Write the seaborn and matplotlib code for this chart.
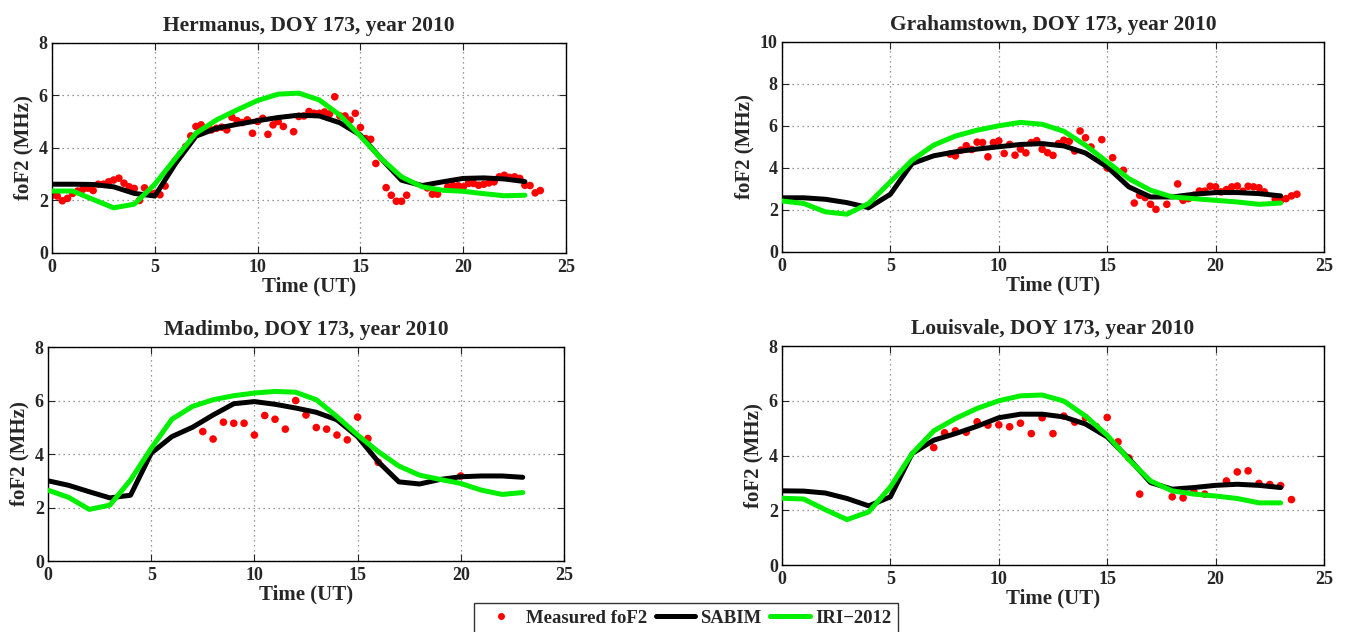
import numpy as np
import pandas as pd
import matplotlib
matplotlib.use("Agg")
import matplotlib.pyplot as plt
from matplotlib.lines import Line2D
import seaborn as sns

# Model output is hourly (UT 0..23)
hours = list(range(24))

# --- Hermanus ---
herm_sabim = [2.62, 2.62, 2.61, 2.52, 2.27, 2.17, 3.40, 4.45, 4.75, 4.90, 5.04, 5.16,
              5.25, 5.22, 4.96, 4.49, 3.60, 2.77, 2.57, 2.71, 2.84, 2.86, 2.82, 2.72]
herm_iri = [2.36, 2.36, 2.04, 1.72, 1.86, 2.62, 3.60, 4.56, 5.07, 5.45, 5.81, 6.05,
            6.09, 5.83, 5.25, 4.45, 3.60, 2.90, 2.52, 2.39, 2.35, 2.26, 2.18, 2.20]
herm_t = [0.0, 0.25, 0.5, 0.75, 1.0, 1.25, 1.5, 1.75, 2.0, 2.25, 2.5, 2.75, 3.0, 3.25,
          3.5, 3.75, 4.0, 4.25, 4.5, 4.75, 5.0, 5.25, 5.5, 5.75, 6.0, 6.25, 6.5, 6.75,
          7.0, 7.25, 7.5, 7.75, 8.0, 8.25, 8.5, 8.75, 9.0, 9.25, 9.5, 9.75, 10.0, 10.25,
          10.5, 10.75, 11.0, 11.25, 11.75, 12.0, 12.25, 12.5, 12.75, 13.0, 13.25, 13.5,
          13.75, 14.0, 14.25, 14.5, 14.75, 15.0, 15.25, 15.5, 15.75, 16.25, 16.5, 16.75,
          17.0, 17.25, 18.25, 18.5, 18.75, 19.25, 19.5, 19.75, 20.0, 20.25, 20.5, 20.75,
          21.0, 21.25, 21.5, 21.75, 22.0, 22.25, 22.5, 22.75, 23.0, 23.25, 23.5, 23.75]
herm_fof2 = [2.20, 2.17, 1.99, 2.08, 2.27, 2.36, 2.43, 2.47, 2.38, 2.62, 2.62, 2.71, 2.78,
             2.85, 2.66, 2.52, 2.46, 2.00, 2.48, 2.27, 2.27, 2.22, 2.55, 3.21, 3.52, 3.77,
             4.05, 4.46, 4.82, 4.88, 4.71, 4.69, 4.75, 4.79, 4.69, 5.17, 5.04, 4.97, 5.07,
             4.56, 5.01, 5.13, 4.52, 4.88, 5.01, 4.82, 4.62, 5.20, 5.22, 5.39, 5.32, 5.32,
             5.37, 5.30, 5.95, 5.22, 5.22, 5.06, 5.32, 4.78, 4.36, 4.33, 3.41, 2.49, 2.20,
             1.97, 1.97, 2.20, 2.48, 2.24, 2.24, 2.52, 2.56, 2.56, 2.52, 2.65, 2.65, 2.58,
             2.62, 2.67, 2.71, 2.90, 2.96, 2.88, 2.90, 2.84, 2.58, 2.57, 2.29, 2.38]

# --- Grahamstown ---
grah_sabim = [2.58, 2.58, 2.51, 2.35, 2.11, 2.75, 4.21, 4.58, 4.77, 4.90, 5.01, 5.12,
              5.16, 5.05, 4.71, 4.05, 3.10, 2.62, 2.62, 2.75, 2.83, 2.83, 2.78, 2.67]
grah_iri = [2.43, 2.31, 1.91, 1.80, 2.31, 3.34, 4.37, 5.09, 5.52, 5.80, 6.01, 6.17,
            6.08, 5.75, 5.08, 4.29, 3.49, 2.94, 2.62, 2.54, 2.46, 2.38, 2.27, 2.33]
grah_t = [7.75, 8.0, 8.25, 8.5, 8.75, 9.0, 9.25, 9.5, 9.75, 10.0, 10.25, 10.5, 10.75,
          11.0, 11.25, 11.5, 11.75, 12.0, 12.25, 12.5, 12.75, 13.0, 13.25, 13.5, 13.75,
          14.0, 14.25, 14.75, 15.0, 15.25, 15.75, 16.25, 16.5, 16.75, 17.0, 17.25, 17.75,
          18.25, 18.5, 18.75, 19.0, 19.25, 19.5, 19.75, 20.0, 20.25, 20.5, 20.75, 21.0,
          21.25, 21.5, 21.75, 22.0, 22.25, 22.75, 23.0, 23.25, 23.5, 23.75]
grah_fof2 = [4.66, 4.58, 4.85, 5.06, 4.88, 5.23, 5.21, 4.53, 5.21, 5.29, 4.69, 5.12, 4.61,
             4.90, 4.72, 5.21, 5.30, 4.89, 4.73, 4.60, 5.16, 5.32, 5.27, 4.81, 5.76, 5.44,
             5.00, 5.35, 4.00, 4.49, 3.89, 2.33, 2.70, 2.59, 2.27, 2.03, 2.27, 3.24, 2.46,
             2.54, 2.70, 2.90, 2.90, 3.13, 3.10, 2.86, 2.97, 3.10, 3.14, 2.89, 3.13, 3.10,
             3.06, 2.86, 2.51, 2.46, 2.54, 2.67, 2.75]

# --- Madimbo ---
madi_sabim = [3.00, 2.83, 2.59, 2.36, 2.46, 4.03, 4.65, 5.00, 5.46, 5.88, 5.96, 5.86,
              5.72, 5.56, 5.28, 4.65, 3.71, 2.96, 2.88, 3.05, 3.15, 3.18, 3.18, 3.13]
madi_iri = [2.65, 2.38, 1.93, 2.09, 3.03, 4.21, 5.30, 5.78, 6.03, 6.18, 6.28, 6.34,
            6.31, 6.03, 5.40, 4.71, 4.09, 3.55, 3.21, 3.05, 2.90, 2.65, 2.49, 2.56]
madi_t = [7.5, 8.0, 8.5, 9.0, 9.5, 10.0, 10.5, 11.0, 11.5, 12.0, 12.5, 13.0, 13.5, 14.0,
          14.5, 15.0, 15.5, 16.0, 20.0]
madi_fof2 = [4.84, 4.56, 5.19, 5.15, 5.15, 4.71, 5.44, 5.30, 4.93, 6.00, 5.46, 4.99, 4.93,
             4.71, 4.53, 5.38, 4.58, 3.69, 3.18]

# --- Louisvale ---
loui_sabim = [2.71, 2.70, 2.63, 2.43, 2.16, 2.49, 4.07, 4.56, 4.80, 5.07, 5.38, 5.51,
              5.51, 5.41, 5.15, 4.68, 3.89, 3.01, 2.77, 2.83, 2.91, 2.95, 2.91, 2.83]
loui_iri = [2.44, 2.41, 2.02, 1.66, 1.94, 2.85, 4.07, 4.90, 5.35, 5.72, 6.00, 6.18,
            6.21, 5.99, 5.44, 4.74, 3.85, 3.07, 2.71, 2.59, 2.52, 2.43, 2.27, 2.27]
loui_t = [7.0, 7.5, 8.0, 8.5, 9.0, 9.5, 10.0, 10.5, 11.0, 11.5, 12.0, 12.5, 13.0, 13.5,
          14.0, 14.5, 15.0, 15.5, 16.0, 16.5, 18.0, 18.5, 19.0, 19.5, 20.5, 21.0, 21.5,
          22.0, 22.5, 23.0, 23.5]
loui_fof2 = [4.29, 4.83, 4.90, 4.85, 5.23, 5.11, 5.12, 5.05, 5.18, 4.80, 5.38, 4.80, 5.44,
             5.22, 5.38, 5.05, 5.39, 4.50, 3.91, 2.59, 2.49, 2.45, 2.67, 2.59, 3.07, 3.40,
             3.44, 2.98, 2.94, 2.90, 2.39]

stations = ["Hermanus", "Grahamstown", "Madimbo", "Louisvale"]
titles = [f"{s}, DOY 173, year 2010" for s in stations]
ymax = [8, 10, 8, 8]
legend_labels = ["Measured foF2", "SABIM", "IRI\u22122012"]

panels = [
    (herm_t, herm_fof2, herm_sabim, herm_iri),
    (grah_t, grah_fof2, grah_sabim, grah_iri),
    (madi_t, madi_fof2, madi_sabim, madi_iri),
    (loui_t, loui_fof2, loui_sabim, loui_iri),
]

sns.set_style("ticks")
plt.rcParams["font.family"] = ["Liberation Serif", "DejaVu Serif"]
plt.rcParams["font.weight"] = "bold"
plt.rcParams["axes.labelweight"] = "bold"
plt.rcParams["axes.titleweight"] = "bold"

GREEN = "#00f000"
fig = plt.figure(figsize=(13.48, 6.32), dpi=100)

# axes rectangles in figure fractions [left, bottom, width, height]
rects = [
    [0.0386, 0.5997, 0.3813, 0.3323],
    [0.5801, 0.6013, 0.4021, 0.3323],
    [0.0356, 0.1123, 0.3828, 0.3386],
    [0.5801, 0.1060, 0.4021, 0.3465],
]

for rect, title, ym, (t, fof2, sabim, iri) in zip(rects, titles, ymax, panels):
    ax = fig.add_axes(rect)
    meas = pd.DataFrame({"UT": t, "foF2": fof2})
    model = pd.DataFrame({"UT": hours, "SABIM": sabim, "IRI": iri})
    sns.scatterplot(data=meas, x="UT", y="foF2", ax=ax, color="red", s=30,
                    edgecolor="none", linewidth=0, zorder=2)
    sns.lineplot(data=model, x="UT", y="SABIM", ax=ax, color="black", lw=3.6, zorder=3)
    sns.lineplot(data=model, x="UT", y="IRI", ax=ax, color=GREEN, lw=3.6, zorder=4)

    ax.set_xlim(0, 25)
    ax.set_ylim(0, ym)
    ax.set_xticks(range(0, 26, 5))
    ax.set_yticks(range(0, ym + 1, 2))
    ax.grid(True, color="#777777", linestyle=(0, (1, 3)), linewidth=0.9)
    ax.tick_params(direction="in", top=True, right=True, length=5, width=0.8,
                   labelsize=13)
    ax.tick_params(axis="y", pad=3)
    ax.tick_params(axis="x", pad=4)
    for lab in ax.get_xticklabels() + ax.get_yticklabels():
        lab.set_fontweight("bold")
    for sp in ax.spines.values():
        sp.set_visible(True)
        sp.set_linewidth(1.0)
        sp.set_color("black")
    ax.set_title(title, fontsize=15.5, fontweight="bold", pad=8.5)
    ax.set_xlabel("Time (UT)", fontsize=15, fontweight="bold", labelpad=1)
    ax.set_ylabel("foF2 (MHz)", fontsize=15, fontweight="bold", labelpad=4)

handles = [
    Line2D([], [], color="red", marker="o", linestyle="none", markersize=5,
           markeredgewidth=0),
    Line2D([], [], color="black", lw=3.6),
    Line2D([], [], color=GREEN, lw=3.6),
]
leg = fig.legend(handles, legend_labels, loc="upper center",
                 bbox_to_anchor=(0.509, 0.0459), borderaxespad=0, ncol=3,
                 frameon=True, fancybox=False, edgecolor="black",
                 handlelength=2.1, handletextpad=0.3, columnspacing=0.45,
                 borderpad=0.35, prop={"weight": "bold", "size": 13.5})
leg.get_frame().set_linewidth(1.0)

fig.savefig("out.png", dpi=100)
